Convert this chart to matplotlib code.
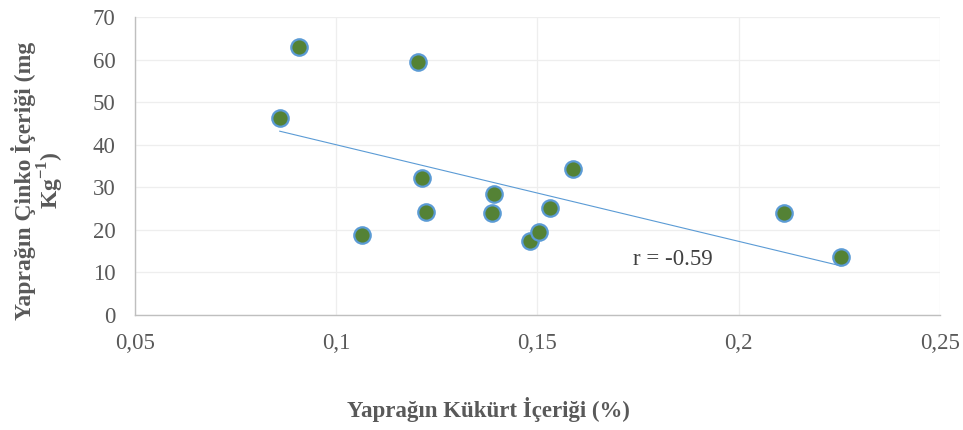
import numpy as np
import matplotlib
matplotlib.use("Agg")
import matplotlib.pyplot as plt

# leaf sulphur (%) vs leaf zinc (mg/kg)
kukurt = [0.0860, 0.0907, 0.1203, 0.1064, 0.1213, 0.1223, 0.1392,
          0.1387, 0.1481, 0.1504, 0.1531, 0.1588, 0.2112, 0.2254]
cinko = [46.3, 63.0, 59.4, 18.8, 32.2, 24.2, 28.4,
         24.0, 17.4, 19.5, 25.1, 34.3, 24.0, 13.6]

xticks = [0.05, 0.1, 0.15, 0.2, 0.25]
xtick_labels = ["0,05", "0,1", "0,15", "0,2", "0,25"]
yticks = [0, 10, 20, 30, 40, 50, 60, 70]

plt.rcParams['font.family'] = ['Liberation Serif', 'DejaVu Serif']
text_col = '#595959'
fs = 16.5

fig = plt.figure(figsize=(9.63, 4.30), dpi=100)
ax = fig.add_axes([0.140, 0.2674, 0.836, 0.6931])

x = np.array(kukurt)
y = np.array(cinko)

# linear trend line
m, b = np.polyfit(x, y, 1)
xs = np.array([x.min(), x.max()])
ax.plot(xs, m * xs + b, color='#5b9bd5', lw=0.8, zorder=2)

ax.scatter(x, y, s=140, c='#548235', edgecolors='#5b9bd5', linewidths=1.6, zorder=3)

ax.set_xlim(0.05, 0.25)
ax.set_ylim(0, 70)
ax.set_xticks(xticks)
ax.set_xticklabels(xtick_labels)
ax.set_yticks(yticks)
ax.grid(True, color='#eeeeee', lw=0.9)
ax.set_axisbelow(True)
for s in ['top', 'right']:
    ax.spines[s].set_visible(False)
for s in ['left', 'bottom']:
    ax.spines[s].set_color('#bfbfbf')
    ax.spines[s].set_linewidth(1.0)
ax.tick_params(length=0, labelsize=fs, labelcolor=text_col)
ax.tick_params(axis='y', pad=14)
ax.tick_params(axis='x', pad=13)

ax.text(0.1837, 13.1, "r = -0.59", fontsize=fs, color='#404040', ha='center', va='center')

fig.text(0.507, 0.047, "Yaprağın Kükürt İçeriği (%)", fontsize=fs, fontweight='bold',
         color=text_col, ha='center', va='center')
fig.text(0.040, 0.58, "Yaprağın Çinko İçeriği (mg\nKg$^{\\mathregular{-1}}$)",
         rotation=90, ha='center', va='center', fontsize=fs + 0.5, fontweight='bold',
         color=text_col, linespacing=1.0, multialignment='center')

fig.savefig("out.png", dpi=100)
